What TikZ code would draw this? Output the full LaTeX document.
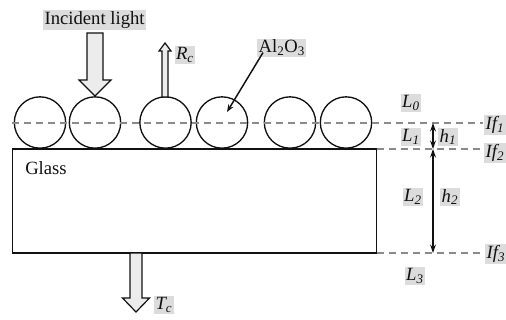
\documentclass[tikz,border=0pt]{standalone}
\usepackage{fontspec}
\setmainfont{Liberation Serif}
\usetikzlibrary{arrows.meta}
\definecolor{ink}{HTML}{111111}
\definecolor{strich}{HTML}{8A8A8A}
\definecolor{fleck}{HTML}{DCDCDC}
\newcommand{\lbl}{\fontsize{14}{17}\selectfont}
\tikzset{teilchen/.style={circle,draw=ink,line width=1pt,inner sep=0,minimum size=38.5pt},
  grenze/.style={strich,line width=1.1pt,dash pattern=on 5.5pt off 3.5pt},
  masspfeil/.style={ink,line width=1.5pt,
    {Stealth[length=2.2mm,width=1.5mm]}-{Stealth[length=2.2mm,width=1.5mm]}},
  zeiger/.style={ink,line width=1.1pt,-{Stealth[length=2mm,width=1.5mm]}},
  marke/.style={fill=fleck,inner sep=1pt,text=ink,font=\lbl},
  block/.style={draw=ink,line width=0.9pt,fill=fleck!55}}
% x, tail y, head base y, tip y, half shaft, half head
\newcommand{\hohlpfeil}[6]{\draw[block] (#1-#5,#2) -- (#1+#5,#2) -- (#1+#5,#3)
  -- (#1+#6,#3) -- (#1,#4) -- (#1-#6,#3) -- (#1-#5,#3) -- cycle;}

\begin{document}
\begin{tikzpicture}[x=0.75pt,y=-0.75pt]
\useasboundingbox (0,0) rectangle (506,320);
% glass plate
\draw[ink,line width=1.1pt] (12.5,149) rectangle (376.5,253);
\node[anchor=west,inner sep=0,text=ink,font=\lbl] (glas) at (25,168) {Glass};
% particles
\foreach \n/\x in {1/40,2/95,3/165.5,4/222,5/290,6/346}
  \node[teilchen] (p\n) at (\x,122.5) {};
% interfaces
\coordinate (if1a) at (12,123);  \coordinate (if1b) at (483,123);
\coordinate (if2a) at (376.5,149); \coordinate (if2b) at (483,149);
\coordinate (if3a) at (376.5,253); \coordinate (if3b) at (483,253);
\draw[grenze] (if1a) -- (if1b);
\draw[grenze] (if2a) -- (if2b);
\draw[grenze] (if3a) -- (if3b);
% thicknesses
\coordinate (m1) at (433,123); \coordinate (m2) at (433,149); \coordinate (m3) at (433,253);
\draw[masspfeil] (m1) -- (m2);
\draw[masspfeil] (m2) -- (m3);
% light
\hohlpfeil{95}{33}{80}{96}{8}{16}
\node[marke,anchor=west] (licht) at (43,20) {Incident light\hspace{12pt}};
\hohlpfeil{165}{97}{51}{43}{3}{6}
\node[marke] (rc) at (185,55) {\textit{R\textsubscript{c}}};
\hohlpfeil{136}{253}{298}{312}{6}{13.5}
\node[marke] (tc) at (164,305) {\textit{T\textsubscript{c}}};
% alumina
\node[marke,anchor=west] (al) at (257,48) {Al\textsubscript{2}O\textsubscript{3}\hspace{20pt}};
\coordinate (alspitze) at (227,112);
\draw[zeiger] ([shift={(6,-5)}]al.south west) -- (alspitze);
% layer and interface names
\node[marke] (l0) at (411,103) {\textit{L\textsubscript{0}}};
\node[marke] (l1) at (411,137) {\textit{L\textsubscript{1}}};
\node[marke] (l2) at (413,197) {\textit{L\textsubscript{2}}};
\node[marke] (l3) at (415,276) {\textit{L\textsubscript{3}}};
\node[marke] (h1) at (448,137) {\textit{h\textsubscript{1}}};
\node[marke] (h2) at (450,197) {\textit{h\textsubscript{2}}};
\node[marke] (if1) at (495,125) {\textit{If\textsubscript{1}}};
\node[marke] (if2) at (495,153) {\textit{If\textsubscript{2}}};
\node[marke] (if3) at (496,254) {\textit{If\textsubscript{3}}};
\end{tikzpicture}
\end{document}
